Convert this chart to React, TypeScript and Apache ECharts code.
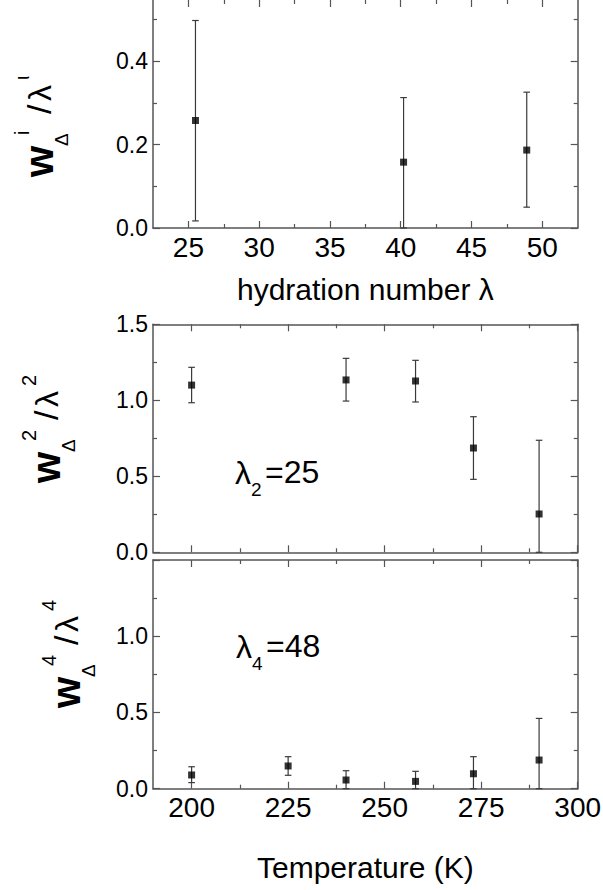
import React, { useEffect, useRef } from "react";
import * as echarts from "echarts";

const FONT = "'Liberation Sans', Arial, Helvetica, sans-serif";
const AX = "#555";
const BAR = "#3a3a3a";

// Panel 1: w/λ versus hydration number
const hydrationLambda = [25.5, 40.2, 48.9];
const wLambdaI = [0.258, 0.158, 0.187];
const wLambdaILow = [0.017, 0.0, 0.05];
const wLambdaIHigh = [0.498, 0.313, 0.326];

// Panel 2: λ2 = 25
const temperature2 = [200, 240, 258, 273, 290];
const wLambda2 = [1.1, 1.134, 1.127, 0.686, 0.252];
const wLambda2Low = [0.984, 0.995, 0.989, 0.48, 0.0];
const wLambda2High = [1.217, 1.276, 1.263, 0.892, 0.737];

// Panel 3: λ4 = 48
const temperature4 = [200, 225, 240, 258, 273, 290];
const wLambda4 = [0.09, 0.149, 0.057, 0.048, 0.098, 0.188];
const wLambda4Low = [0.04, 0.088, 0.0, 0.0, 0.0, 0.0];
const wLambda4High = [0.144, 0.21, 0.118, 0.114, 0.21, 0.461];

// Ticks
const hydrationTicks = [25, 30, 35, 40, 45, 50];
const hydrationMinor = [27.5, 32.5, 37.5, 42.5, 47.5];
const temperatureTicks = [200, 225, 250, 275, 300];
const temperatureMinor = [212.5, 237.5, 262.5, 287.5];
const topYTicks = [0, 0.2, 0.4];
const topYMinor = [0.1, 0.3, 0.5];
const lowerYTicks = [0, 0.5, 1.0, 1.5];
const lowerYMinor = [0.25, 0.75, 1.25];
const bottomYLabels = [0, 0.5, 1.0];

const PLOT_LEFT = 153;
const PLOT_W = 424.7;

type AxisCfg = {
  grid: number;
  min: number;
  max: number;
  majors: number[];
  minors: number[];
  labels: number[] | null;
  labelSize: number;
  fmt: (v: number) => string;
  mainPos: string;
  mirrorPos: string;
  mirrorLine: boolean;
  name?: string;
  nameGap?: number;
};

function buildAxes(cfg: AxisCfg, list: any[]): number {
  const mainIndex = list.length;
  const base = (pos: string, lineShow: boolean, ticks: number[], len: number, labels: number[] | null) => ({
    gridIndex: cfg.grid,
    type: "value",
    min: cfg.min,
    max: cfg.max,
    position: pos,
    axisLine: { show: lineShow, onZero: false, lineStyle: { color: AX, width: 1.5 } },
    axisTick: {
      show: true,
      inside: true,
      length: len,
      customValues: ticks,
      lineStyle: { color: AX, width: 1.2 },
    },
    axisLabel: labels
      ? {
          show: true,
          customValues: labels,
          margin: 5,
          fontSize: cfg.labelSize,
          color: "#000",
          fontFamily: FONT,
          formatter: (v: number) => cfg.fmt(v),
        }
      : { show: false },
    splitLine: { show: false },
    minorTick: { show: false },
  });
  const main: any = base(cfg.mainPos, true, cfg.majors, 7, cfg.labels);
  if (cfg.name) {
    main.name = cfg.name;
    main.nameLocation = "middle";
    main.nameGap = cfg.nameGap;
    main.nameTextStyle = { fontSize: 30, color: "#000", fontFamily: FONT };
  }
  list.push(main);
  list.push(base(cfg.mainPos, false, cfg.minors, 4, null));
  list.push(base(cfg.mirrorPos, cfg.mirrorLine, cfg.majors, 7, null));
  list.push(base(cfg.mirrorPos, false, cfg.minors, 4, null));
  return mainIndex;
}

function errorSeries(xi: number, yi: number, xs: number[], lo: number[], hi: number[]) {
  return {
    type: "custom",
    xAxisIndex: xi,
    yAxisIndex: yi,
    z: 3,
    silent: true,
    data: xs.map((x, i) => [x, lo[i], hi[i]]),
    encode: { x: 0, y: [1, 2] },
    renderItem: (_p: any, api: any) => {
      const x = api.value(0);
      const a = api.coord([x, api.value(1)]);
      const b = api.coord([x, api.value(2)]);
      const cap = 3.3;
      const st = { stroke: BAR, lineWidth: 1.2 };
      return {
        type: "group",
        children: [
          { type: "line", shape: { x1: a[0], y1: a[1], x2: b[0], y2: b[1] }, style: st },
          { type: "line", shape: { x1: b[0] - cap, y1: b[1], x2: b[0] + cap, y2: b[1] }, style: st },
          { type: "line", shape: { x1: a[0] - cap, y1: a[1], x2: a[0] + cap, y2: a[1] }, style: st },
        ],
      };
    },
  };
}

function pointSeries(xi: number, yi: number, xs: number[], ys: number[]) {
  return {
    type: "scatter",
    xAxisIndex: xi,
    yAxisIndex: yi,
    z: 4,
    symbol: "rect",
    symbolSize: 7,
    itemStyle: { color: "#000" },
    data: xs.map((x, i) => [x, ys[i]]),
  };
}

function baseText(text: string, x: number, baseline: number, fs: number, extra: any = {}) {
  return {
    type: "text",
    x,
    y: baseline - 0.3465 * fs,
    style: {
      text,
      fontSize: fs,
      fontFamily: FONT,
      fill: "#000",
      align: "left",
      verticalAlign: "middle",
      ...extra,
    },
  };
}

function yTitle(ox: number, oy: number, sup1: string, sup2: string) {
  return {
    type: "group",
    x: ox,
    y: oy,
    rotation: Math.PI / 2,
    children: [
      baseText("w", 0, 0, 40, { fontWeight: "bold" }),
      baseText("Δ", 31, 15, 19),
      baseText(sup1, 42, -24, 20),
      baseText("/", 63, -2, 34),
      baseText("λ", 76, -2, 32),
      baseText(sup2, 97, -24, 20),
    ],
  };
}

function annotation(x: number, baseline: number, sub: string, rest: string) {
  return {
    type: "group",
    children: [
      baseText("λ", x, baseline + 1, 32),
      baseText(sub, x + 16, baseline + 13, 19),
      baseText(rest, x + 30, baseline, 32),
    ],
  };
}

export default function App() {
  const ref = useRef<HTMLDivElement>(null);
  useEffect(() => {
    if (!ref.current) return;
    const chart = echarts.init(ref.current, null, { renderer: "svg" });
    const xAxes: any[] = [];
    const yAxes: any[] = [];
    const f1 = (v: number) => v.toFixed(1);
    const f0 = (v: number) => String(Math.round(v));

    // grid 0
    const x0 = buildAxes(
      { grid: 0, min: 22.5, max: 52.5, majors: hydrationTicks, minors: hydrationMinor, labels: hydrationTicks, labelSize: 28, fmt: f0, mainPos: "bottom", mirrorPos: "top", mirrorLine: false, name: "hydration number λ", nameGap: 46 },
      xAxes
    );
    const y0 = buildAxes(
      { grid: 0, min: 0, max: 0.5472, majors: topYTicks, minors: topYMinor, labels: topYTicks, labelSize: 23, fmt: f1, mainPos: "left", mirrorPos: "right", mirrorLine: true },
      yAxes
    );
    // grid 1
    const x1 = buildAxes(
      { grid: 1, min: 190, max: 300, majors: temperatureTicks, minors: temperatureMinor, labels: null, labelSize: 28, fmt: f0, mainPos: "bottom", mirrorPos: "top", mirrorLine: true },
      xAxes
    );
    const y1 = buildAxes(
      { grid: 1, min: 0, max: 1.5, majors: lowerYTicks, minors: lowerYMinor, labels: lowerYTicks, labelSize: 23, fmt: f1, mainPos: "left", mirrorPos: "right", mirrorLine: true },
      yAxes
    );
    // grid 2
    const x2 = buildAxes(
      { grid: 2, min: 190, max: 300, majors: temperatureTicks, minors: temperatureMinor, labels: temperatureTicks, labelSize: 28, fmt: f0, mainPos: "bottom", mirrorPos: "top", mirrorLine: true, name: "Temperature (K)", nameGap: 64 },
      xAxes
    );
    const y2 = buildAxes(
      { grid: 2, min: 0, max: 1.5, majors: lowerYTicks, minors: lowerYMinor, labels: bottomYLabels, labelSize: 23, fmt: f1, mainPos: "left", mirrorPos: "right", mirrorLine: true },
      yAxes
    );

    chart.setOption({
      animation: false,
      backgroundColor: "#fff",
      textStyle: { fontFamily: FONT },
      grid: [
        { left: PLOT_LEFT, top: 0, width: PLOT_W, height: 228, outerBoundsMode: "none" },
        { left: PLOT_LEFT, top: 324.3, width: PLOT_W, height: 228, outerBoundsMode: "none" },
        { left: PLOT_LEFT, top: 560, width: PLOT_W, height: 228.7, outerBoundsMode: "none" },
      ],
      xAxis: xAxes,
      yAxis: yAxes,
      series: [
        errorSeries(x0, y0, hydrationLambda, wLambdaILow, wLambdaIHigh),
        pointSeries(x0, y0, hydrationLambda, wLambdaI),
        errorSeries(x1, y1, temperature2, wLambda2Low, wLambda2High),
        pointSeries(x1, y1, temperature2, wLambda2),
        errorSeries(x2, y2, temperature4, wLambda4Low, wLambda4High),
        pointSeries(x2, y2, temperature4, wLambda4),
      ],
      graphic: [
        yTitle(53, 177, "i", "ι"),
        yTitle(60, 483, "2", "2"),
        yTitle(80, 708, "4", "4"),
        annotation(235, 483, "2", "=25"),
        annotation(236, 657, "4", "=48"),
      ],
    });
    return () => chart.dispose();
  }, []);
  return (
    <div
      ref={ref}
      style={{ position: "fixed", left: 0, top: 0, width: 603, height: 890, background: "#fff" }}
    />
  );
}
